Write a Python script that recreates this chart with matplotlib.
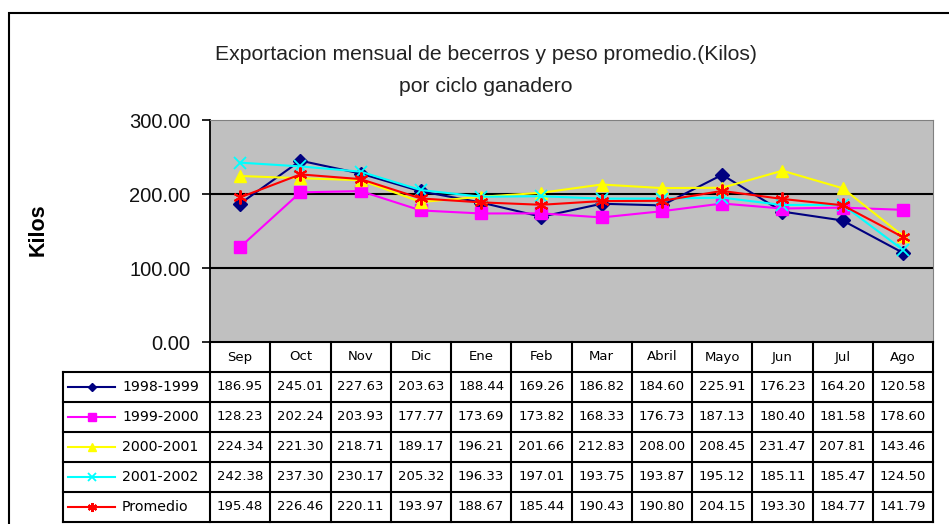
import matplotlib.pyplot as plt
import matplotlib.patches as mpatches
import numpy as np

months = ['Sep', 'Oct', 'Nov', 'Dic', 'Ene', 'Feb', 'Mar', 'Abril', 'Mayo', 'Jun', 'Jul', 'Ago']
labels = ['1998-1999', '1999-2000', '2000-2001', '2001-2002', 'Promedio']
s1998 = [186.95, 245.01, 227.63, 203.63, 188.44, 169.26, 186.82, 184.60, 225.91, 176.23, 164.20, 120.58]
s1999 = [128.23, 202.24, 203.93, 177.77, 173.69, 173.82, 168.33, 176.73, 187.13, 180.40, 181.58, 178.60]
s2000 = [224.34, 221.30, 218.71, 189.17, 196.21, 201.66, 212.83, 208.00, 208.45, 231.47, 207.81, 143.46]
s2001 = [242.38, 237.30, 230.17, 205.32, 196.33, 197.01, 193.75, 193.87, 195.12, 185.11, 185.47, 124.50]
prom = [195.48, 226.46, 220.11, 193.97, 188.67, 185.44, 190.43, 190.80, 204.15, 193.30, 184.77, 141.79]
series = [s1998, s1999, s2000, s2001, prom]

styles = [
    dict(color='#000080', marker='D', ms=7),
    dict(color='#FF00FF', marker='s', ms=8),
    dict(color='#FFFF00', marker='^', ms=9),
    dict(color='#00FFFF', marker='x', ms=8, mew=1.3),
    dict(color='#FF0000', marker=(6, 2, 0), ms=10, mew=1.5),
]

W, H = 949, 524
fig = plt.figure(figsize=(W / 100, H / 100), dpi=100)
plt.rcParams['font.family'] = ['Liberation Sans', 'DejaVu Sans']

def px_rect(x0, y0, x1, y1):
    return [x0 / W, 1 - y1 / H, (x1 - x0) / W, (y1 - y0) / H]

# outer chart frame (cut off at right/bottom)
fig.patches.append(mpatches.Rectangle((9 / W, -0.1), 1.2, 1 - 12.5 / H + 0.1,
                                      transform=fig.transFigure, fill=False,
                                      edgecolor='black', lw=1.5))

# chart area
ax = fig.add_axes(px_rect(210, 120, 933, 342))
ax.set_facecolor('#C0C0C0')
x = np.arange(len(months))
for vals, st in zip(series, styles):
    ax.plot(x, vals, lw=1.5, color=st['color'], marker=st['marker'],
            ms=st['ms'], mew=st.get('mew', 1), mfc=st['color'], mec=st['color'])
ax.set_xlim(-0.5, len(months) - 0.5)
ax.set_ylim(0, 300)
ax.set_yticks([0, 100, 200, 300])
ax.set_yticklabels(['%.2f' % v for v in [0, 100, 200, 300]], fontsize=14.5, color='#111111')
ax.set_xticks([])
for v in [100, 200]:
    ax.axhline(v, color='black', lw=1.5, zorder=1)
ax.tick_params(axis='y', length=6, width=1.2, pad=8)
for sp in ['top', 'right']:
    ax.spines[sp].set_color('#808080')
ax.spines['left'].set_linewidth(1.3)
ax.spines['bottom'].set_linewidth(1.3)

fig.text(486 / W, 1 - 55 / H, 'Exportacion mensual de becerros y peso promedio.(Kilos)',
         ha='center', va='center', fontsize=15.2, color='#222222')
fig.text(486 / W, 1 - 87 / H, 'por ciclo ganadero',
         ha='center', va='center', fontsize=15.2, color='#222222')
fig.text(38 / W, 1 - 230 / H, 'Kilos', rotation=90, ha='center', va='center',
         fontsize=15.5, fontweight='bold')

# data table below the chart
colw = 723 / 12
left_data = -0.5 - (210 - 63) / colw
tb = fig.add_axes(px_rect(63, 342, 933, 522))
tb.set_xlim(left_data, len(months) - 0.5)
tb.set_ylim(len(labels) + 0.5, -0.5)
tb.axis('off')
tfont = dict(family=['DejaVu Sans'], fontsize=9.5, color='black')
lw = 1.5
for k in range(len(months) + 1):
    tb.plot([k - 0.5, k - 0.5], [-0.5, len(labels) + 0.5], color='black', lw=lw,
            solid_capstyle='projecting', clip_on=False)
tb.plot([-0.5, len(months) - 0.5], [-0.5, -0.5], color='black', lw=lw, clip_on=False)
for r in range(len(labels) + 1):
    tb.plot([left_data, len(months) - 0.5], [r + 0.5, r + 0.5], color='black', lw=lw,
            clip_on=False)
tb.plot([left_data, left_data], [0.5, len(labels) + 0.5], color='black', lw=lw, clip_on=False)

for j, m in enumerate(months):
    tb.text(j, 0, m, ha='center', va='center', **tfont)
for i, (lab, vals, st) in enumerate(zip(labels, series, styles)):
    y = i + 1
    for j, v in enumerate(vals):
        tb.text(j, y, '%.2f' % v, ha='center', va='center', **tfont)
    kx = [left_data + 5 / colw, left_data + 29 / colw, left_data + 52 / colw]
    tb.plot(kx, [y] * 3, color=st['color'], lw=1.5, marker=st['marker'],
            ms=st['ms'] * 0.65, mew=st.get('mew', 1), mfc=st['color'], mec=st['color'],
            markevery=[1])
    tb.text(left_data + 59 / colw, y, lab, ha='left', va='center',
            **dict(tfont, fontsize=10.2))

fig.savefig('out.png', dpi=100)
